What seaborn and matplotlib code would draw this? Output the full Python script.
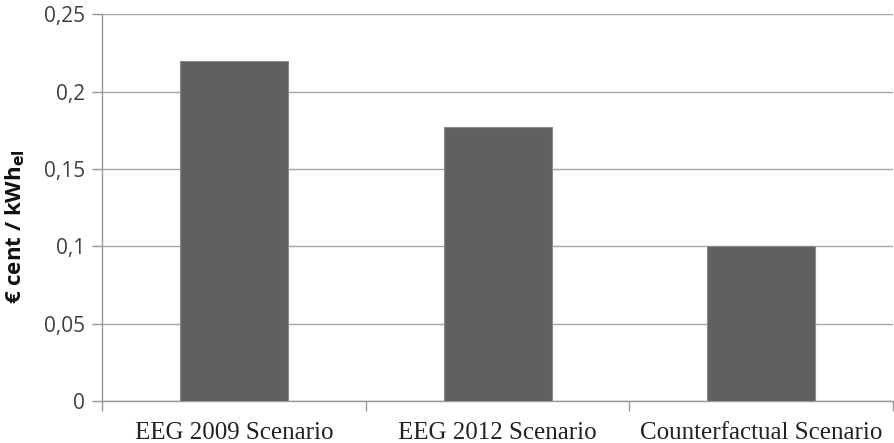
import pandas as pd
import matplotlib.pyplot as plt
import seaborn as sns
from matplotlib.ticker import FixedLocator, FuncFormatter

scenarios = ["EEG 2009 Scenario", "EEG 2012 Scenario", "Counterfactual Scenario"]
costs = [0.22, 0.177, 0.10]
y_ticks = [0, 0.05, 0.1, 0.15, 0.2, 0.25]

df = pd.DataFrame({"Scenario": scenarios, "Cost": costs})

sns.set_style("white")
plt.rcParams["font.family"] = ["Open Sans", "DejaVu Sans"]

fig = plt.figure(figsize=(8.95, 4.43), dpi=100)
ax = fig.add_axes([0.114, 0.095, 0.884, 0.873])

sns.barplot(data=df, x="Scenario", y="Cost", color="#606060", width=0.41,
            saturation=1, edgecolor="#8c8c8c", linewidth=0.8, ax=ax, zorder=3)

ax.set_ylim(0, 0.25)
ax.set_xlim(-0.5, 2.5)
ax.set_yticks(y_ticks)
ax.yaxis.set_major_formatter(FuncFormatter(lambda v, p: f"{v:g}".replace(".", ",")))
ax.grid(axis="y", color="#a6a6a6", linewidth=1, zorder=0)

for s in ["top", "right"]:
    ax.spines[s].set_visible(False)
for s in ["left", "bottom"]:
    ax.spines[s].set_color("#999999")
    ax.spines[s].set_linewidth(1)

ax.tick_params(axis="y", length=7, color="#999999", width=1, labelsize=15,
               labelcolor="#404040", pad=5, left=True)
ax.tick_params(axis="x", which="major", length=0, pad=15)
ax.xaxis.set_minor_locator(FixedLocator([-0.5, 0.5, 1.5, 2.5]))
ax.tick_params(axis="x", which="minor", length=7, color="#999999", width=1, bottom=True)

for lbl in ax.get_xticklabels():
    lbl.set_fontfamily("Liberation Serif")
    lbl.set_fontsize(18)
    lbl.set_color("#222222")

ax.set_xlabel("")
ax.set_ylabel("€ cent / kWh$_{\\mathbf{el}}$", fontsize=16, fontweight="bold",
              color="#111111")
ax.yaxis.set_label_coords(-0.095, 0.45)

fig.savefig("out.png", dpi=100)
